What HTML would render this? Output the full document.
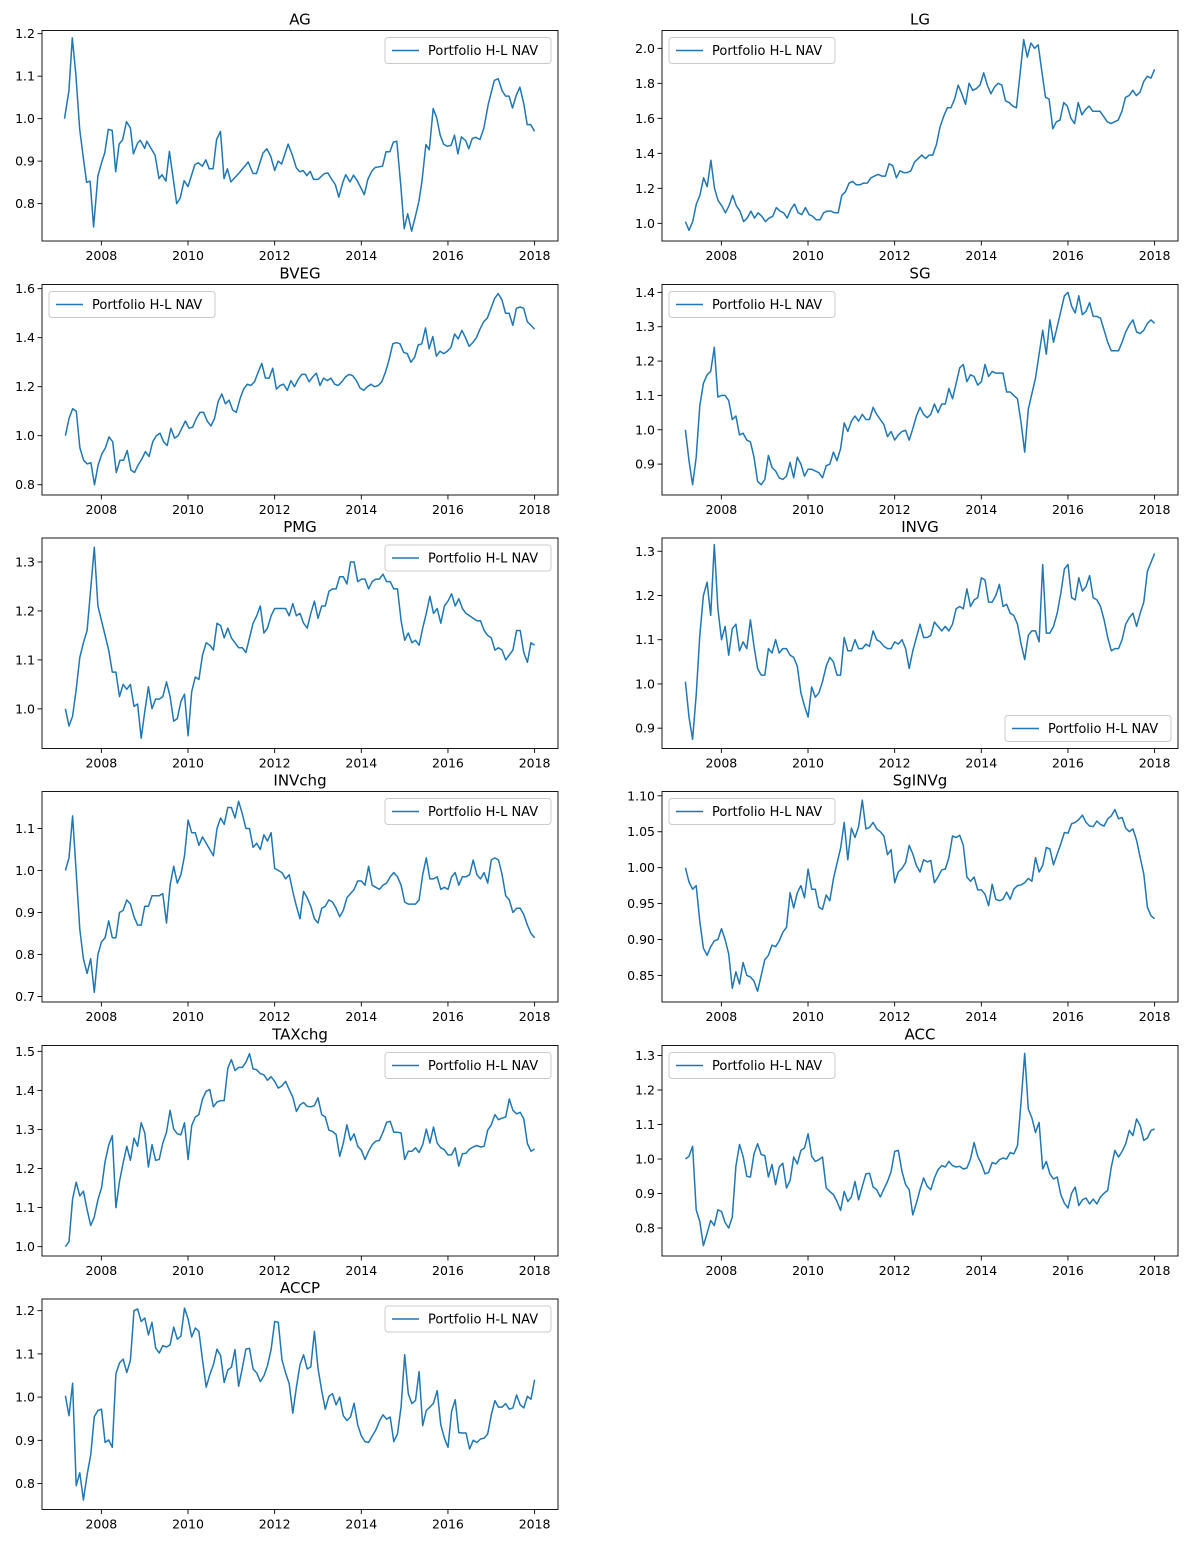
<!DOCTYPE html>
<html><head><meta charset="utf-8">
<style>
html,body{margin:0;padding:0;background:#fff;}
svg{display:block;font-family:"DejaVu Sans","Liberation Sans",sans-serif;}
</style></head>
<body>
<svg id="fig" width="1193" height="1543" viewBox="0 0 1193 1543" xmlns="http://www.w3.org/2000/svg"></svg>
<script>
// ---- data ----
const titles = ["AG","LG","BVEG","SG","PMG","INVG","INVchg","SgINVg","TAXchg","ACC","ACCP"];
const xTickYears = [2008,2010,2012,2014,2016,2018];
const agYears = [2007.15,2007.25,2007.33,2007.41,2007.5,2007.58,2007.66,2007.74,2007.82,2007.92,2008.0,2008.08,2008.16,2008.25,2008.33,2008.41,2008.49,2008.58,2008.67,2008.74,2008.84,2008.9,2009.0,2009.05,2009.24,2009.33,2009.4,2009.49,2009.57,2009.74,2009.82,2009.91,2010.0,2010.16,2010.24,2010.33,2010.41,2010.49,2010.58,2010.66,2010.75,2010.83,2010.91,2010.99,2011.18,2011.39,2011.5,2011.58,2011.73,2011.82,2011.91,2012.0,2012.08,2012.16,2012.31,2012.41,2012.5,2012.58,2012.66,2012.74,2012.82,2012.9,2013.0,2013.15,2013.23,2013.32,2013.4,2013.48,2013.57,2013.64,2013.74,2013.82,2013.91,2013.99,2014.07,2014.15,2014.24,2014.32,2014.49,2014.57,2014.66,2014.74,2014.82,2014.91,2014.99,2015.07,2015.16,2015.24,2015.33,2015.4,2015.49,2015.57,2015.66,2015.74,2015.82,2015.9,2015.98,2016.07,2016.15,2016.23,2016.31,2016.41,2016.48,2016.56,2016.64,2016.74,2016.83,2016.93,2017.07,2017.16,2017.25,2017.33,2017.41,2017.49,2017.58,2017.66,2017.75,2017.83,2017.91,2018.0];
const agVals = [1.00,1.065,1.19,1.105,0.975,0.91,0.85,0.853,0.745,0.865,0.895,0.92,0.975,0.972,0.875,0.94,0.95,0.993,0.978,0.917,0.943,0.949,0.93,0.947,0.914,0.859,0.868,0.853,0.923,0.80,0.813,0.854,0.84,0.892,0.896,0.888,0.903,0.882,0.882,0.951,0.97,0.859,0.882,0.851,0.872,0.898,0.871,0.871,0.919,0.929,0.911,0.878,0.9,0.893,0.94,0.914,0.884,0.875,0.878,0.866,0.876,0.857,0.857,0.871,0.872,0.857,0.845,0.815,0.849,0.868,0.851,0.867,0.853,0.837,0.821,0.857,0.876,0.885,0.888,0.922,0.922,0.945,0.947,0.845,0.741,0.776,0.735,0.766,0.805,0.853,0.939,0.927,1.024,1.002,0.961,0.94,0.935,0.937,0.961,0.917,0.957,0.948,0.929,0.953,0.956,0.951,0.978,1.033,1.09,1.094,1.066,1.053,1.053,1.025,1.056,1.074,1.035,0.986,0.986,0.97];
const lgVals = [1.01,0.96,1.01,1.11,1.16,1.26,1.21,1.36,1.20,1.13,1.10,1.06,1.10,1.16,1.10,1.07,1.01,1.03,1.07,1.03,1.06,1.04,1.01,1.03,1.04,1.09,1.07,1.06,1.03,1.08,1.11,1.06,1.05,1.09,1.05,1.04,1.02,1.02,1.06,1.07,1.07,1.06,1.06,1.16,1.18,1.23,1.24,1.22,1.22,1.23,1.23,1.26,1.27,1.28,1.27,1.27,1.34,1.33,1.26,1.30,1.29,1.29,1.30,1.35,1.37,1.39,1.37,1.39,1.39,1.45,1.55,1.61,1.66,1.66,1.71,1.79,1.74,1.68,1.80,1.76,1.77,1.79,1.86,1.79,1.74,1.78,1.80,1.79,1.70,1.69,1.67,1.66,1.85,2.05,1.95,2.03,2.00,2.02,1.87,1.72,1.71,1.54,1.58,1.59,1.69,1.67,1.60,1.57,1.69,1.62,1.65,1.67,1.64,1.64,1.64,1.61,1.58,1.57,1.58,1.59,1.64,1.72,1.73,1.76,1.73,1.75,1.81,1.84,1.83,1.88];
const bvegVals = [1.00,1.07,1.11,1.10,0.95,0.90,0.885,0.89,0.80,0.88,0.925,0.95,0.995,0.975,0.85,0.90,0.90,0.94,0.86,0.85,0.88,0.905,0.935,0.915,0.975,1.00,1.01,0.975,0.96,1.03,0.99,1.00,1.03,1.06,1.03,1.035,1.07,1.095,1.095,1.06,1.04,1.07,1.14,1.17,1.13,1.145,1.105,1.095,1.15,1.19,1.21,1.205,1.22,1.26,1.295,1.235,1.235,1.275,1.19,1.205,1.21,1.185,1.225,1.20,1.23,1.25,1.25,1.22,1.24,1.255,1.205,1.235,1.225,1.235,1.21,1.205,1.22,1.24,1.25,1.245,1.225,1.195,1.185,1.20,1.21,1.20,1.205,1.22,1.26,1.31,1.375,1.38,1.375,1.34,1.335,1.30,1.32,1.37,1.375,1.44,1.355,1.405,1.325,1.345,1.335,1.345,1.36,1.415,1.395,1.43,1.40,1.365,1.38,1.40,1.435,1.465,1.48,1.52,1.56,1.58,1.555,1.50,1.50,1.45,1.52,1.525,1.52,1.465,1.45,1.435];
const sgVals = [1.00,0.91,0.84,0.92,1.07,1.135,1.16,1.17,1.24,1.095,1.10,1.10,1.085,1.03,1.04,0.985,0.99,0.97,0.965,0.92,0.85,0.84,0.855,0.925,0.89,0.88,0.86,0.855,0.865,0.905,0.86,0.92,0.90,0.865,0.885,0.885,0.88,0.875,0.86,0.895,0.90,0.935,0.91,0.945,1.02,0.995,1.025,1.04,1.025,1.045,1.03,1.03,1.065,1.045,1.03,1.015,0.98,0.995,0.97,0.985,0.995,0.998,0.97,1.003,1.04,1.065,1.045,1.035,1.045,1.075,1.05,1.075,1.075,1.12,1.09,1.135,1.18,1.19,1.14,1.16,1.155,1.13,1.14,1.19,1.155,1.17,1.165,1.165,1.165,1.11,1.11,1.10,1.09,1.02,0.935,1.06,1.105,1.15,1.22,1.29,1.22,1.32,1.255,1.30,1.345,1.39,1.40,1.36,1.34,1.39,1.335,1.345,1.37,1.33,1.33,1.325,1.29,1.255,1.23,1.23,1.23,1.255,1.285,1.305,1.32,1.285,1.28,1.29,1.31,1.32,1.31];
const pmgVals = [1.00,0.965,0.985,1.04,1.105,1.135,1.16,1.245,1.33,1.21,1.18,1.15,1.12,1.075,1.075,1.025,1.05,1.04,1.05,1.005,1.01,0.94,0.995,1.045,1.00,1.02,1.02,1.025,1.055,1.025,0.975,0.98,1.015,1.03,0.945,1.035,1.065,1.06,1.11,1.135,1.13,1.12,1.175,1.17,1.145,1.165,1.145,1.135,1.125,1.125,1.115,1.145,1.175,1.19,1.21,1.155,1.165,1.19,1.205,1.205,1.205,1.205,1.19,1.215,1.19,1.195,1.175,1.165,1.195,1.22,1.185,1.21,1.21,1.24,1.245,1.245,1.27,1.27,1.255,1.30,1.30,1.26,1.265,1.265,1.245,1.26,1.265,1.265,1.275,1.26,1.26,1.245,1.245,1.18,1.14,1.155,1.135,1.14,1.13,1.165,1.195,1.23,1.195,1.205,1.175,1.21,1.22,1.235,1.21,1.225,1.205,1.195,1.19,1.185,1.18,1.18,1.16,1.15,1.145,1.12,1.125,1.12,1.10,1.11,1.12,1.16,1.16,1.115,1.095,1.135,1.13];
const invgVals = [1.005,0.925,0.875,0.975,1.11,1.20,1.23,1.155,1.315,1.17,1.10,1.13,1.065,1.125,1.135,1.075,1.095,1.08,1.145,1.085,1.035,1.02,1.02,1.08,1.07,1.10,1.07,1.08,1.08,1.065,1.06,1.04,0.98,0.95,0.925,0.993,0.97,0.98,1.005,1.04,1.06,1.05,1.02,1.02,1.105,1.075,1.075,1.10,1.08,1.08,1.09,1.085,1.12,1.10,1.095,1.085,1.08,1.08,1.095,1.09,1.10,1.08,1.035,1.075,1.105,1.135,1.105,1.105,1.11,1.14,1.13,1.12,1.13,1.12,1.135,1.17,1.175,1.17,1.215,1.175,1.19,1.195,1.24,1.235,1.185,1.185,1.20,1.225,1.175,1.18,1.16,1.155,1.135,1.09,1.055,1.11,1.12,1.12,1.095,1.27,1.115,1.115,1.13,1.16,1.205,1.26,1.27,1.195,1.19,1.24,1.21,1.22,1.245,1.195,1.19,1.175,1.145,1.105,1.075,1.08,1.08,1.10,1.135,1.15,1.16,1.13,1.16,1.185,1.255,1.275,1.295];
const invchgVals = [1.00,1.03,1.13,0.995,0.86,0.79,0.755,0.79,0.71,0.80,0.83,0.84,0.88,0.84,0.84,0.90,0.905,0.93,0.92,0.89,0.87,0.87,0.915,0.915,0.94,0.94,0.94,0.945,0.875,0.965,1.01,0.97,0.99,1.035,1.12,1.09,1.09,1.06,1.08,1.065,1.05,1.035,1.10,1.125,1.11,1.15,1.15,1.125,1.165,1.135,1.10,1.10,1.055,1.065,1.05,1.085,1.07,1.09,1.005,1.00,0.995,0.98,0.99,0.95,0.915,0.885,0.95,0.935,0.915,0.885,0.875,0.91,0.915,0.93,0.925,0.91,0.89,0.905,0.935,0.945,0.955,0.975,0.975,0.965,1.01,0.965,0.96,0.955,0.965,0.97,0.985,0.995,0.985,0.965,0.925,0.92,0.92,0.92,0.93,0.99,1.03,0.98,0.98,0.985,0.955,0.96,0.955,0.985,0.995,0.965,0.985,0.985,0.99,1.025,0.99,0.98,0.995,0.97,1.025,1.03,1.025,0.99,0.94,0.93,0.90,0.91,0.91,0.895,0.87,0.85,0.84];
const sginvgVals = [1.00,0.98,0.97,0.975,0.925,0.888,0.878,0.89,0.898,0.90,0.915,0.90,0.88,0.832,0.855,0.838,0.868,0.85,0.848,0.842,0.828,0.85,0.872,0.878,0.892,0.89,0.898,0.91,0.917,0.965,0.944,0.965,0.975,0.958,0.998,0.97,0.97,0.945,0.942,0.962,0.954,0.984,1.006,1.027,1.063,1.011,1.055,1.042,1.057,1.094,1.054,1.056,1.063,1.054,1.05,1.044,1.018,1.025,0.979,0.994,0.999,1.007,1.031,1.019,1.003,0.994,1.011,1.008,1.01,0.979,0.987,0.997,0.998,1.014,1.044,1.042,1.045,1.031,0.987,0.981,0.987,0.969,0.969,0.963,0.947,0.977,0.956,0.954,0.956,0.966,0.956,0.97,0.975,0.976,0.979,0.985,0.981,1.014,0.994,1.003,1.028,1.026,1.004,1.019,1.033,1.049,1.048,1.061,1.063,1.067,1.073,1.063,1.058,1.057,1.065,1.06,1.058,1.068,1.072,1.081,1.068,1.07,1.055,1.05,1.054,1.038,1.014,0.991,0.945,0.933,0.929];
const taxchgVals = [1.00,1.013,1.122,1.165,1.13,1.142,1.095,1.054,1.076,1.12,1.15,1.218,1.26,1.284,1.10,1.167,1.214,1.257,1.221,1.278,1.257,1.317,1.291,1.204,1.261,1.221,1.223,1.265,1.293,1.349,1.301,1.289,1.286,1.317,1.223,1.31,1.332,1.338,1.378,1.398,1.402,1.358,1.37,1.374,1.374,1.457,1.479,1.451,1.459,1.459,1.472,1.494,1.455,1.453,1.443,1.44,1.426,1.435,1.423,1.406,1.412,1.423,1.402,1.383,1.346,1.363,1.369,1.359,1.358,1.361,1.381,1.338,1.332,1.298,1.295,1.287,1.231,1.265,1.312,1.272,1.289,1.257,1.247,1.223,1.244,1.261,1.27,1.272,1.293,1.318,1.321,1.293,1.293,1.291,1.223,1.244,1.244,1.253,1.241,1.261,1.301,1.265,1.306,1.265,1.253,1.248,1.235,1.235,1.253,1.206,1.238,1.239,1.25,1.255,1.259,1.255,1.257,1.298,1.312,1.338,1.325,1.329,1.332,1.378,1.349,1.34,1.344,1.327,1.264,1.244,1.25];
const accVals = [1.00,1.008,1.037,0.853,0.819,0.749,0.785,0.822,0.807,0.853,0.848,0.816,0.80,0.832,0.979,1.042,1.008,0.95,0.948,1.015,1.044,1.013,1.01,0.948,0.984,0.926,0.977,0.988,0.916,0.938,1.006,0.986,1.025,1.032,1.073,1.008,0.993,0.998,1.006,0.916,0.906,0.897,0.877,0.851,0.906,0.877,0.89,0.935,0.882,0.921,0.957,0.959,0.919,0.911,0.89,0.913,0.935,0.964,1.022,1.025,0.964,0.926,0.911,0.838,0.872,0.911,0.945,0.921,0.911,0.945,0.969,0.981,0.977,0.993,0.981,0.977,0.979,0.971,0.974,1.00,1.048,1.008,0.986,0.957,0.961,0.99,0.986,0.998,1.003,1.00,1.019,1.015,1.039,1.167,1.306,1.145,1.119,1.077,1.106,0.971,0.993,0.957,0.942,0.948,0.897,0.872,0.858,0.901,0.919,0.865,0.882,0.887,0.87,0.884,0.87,0.89,0.901,0.909,0.977,1.025,1.006,1.022,1.044,1.083,1.068,1.116,1.097,1.054,1.061,1.083,1.087];
const accpVals = [1.003,0.957,1.032,0.795,0.825,0.762,0.82,0.866,0.955,0.969,0.972,0.895,0.901,0.884,1.054,1.079,1.088,1.057,1.085,1.20,1.204,1.175,1.183,1.144,1.173,1.114,1.102,1.119,1.116,1.121,1.162,1.134,1.141,1.206,1.181,1.139,1.16,1.152,1.086,1.023,1.052,1.075,1.111,1.096,1.034,1.063,1.069,1.11,1.025,1.067,1.111,1.113,1.065,1.056,1.036,1.049,1.073,1.11,1.175,1.173,1.086,1.056,1.031,0.963,1.023,1.075,1.098,1.065,1.07,1.152,1.067,1.015,0.972,1.002,1.008,0.982,1.00,0.957,0.946,0.954,0.986,0.936,0.91,0.897,0.895,0.91,0.924,0.944,0.959,0.949,0.954,0.897,0.915,0.978,1.098,1.008,0.985,0.992,1.059,0.934,0.969,0.977,0.986,1.015,0.936,0.905,0.884,0.967,0.994,0.918,0.917,0.917,0.88,0.90,0.895,0.903,0.905,0.915,0.959,0.992,0.977,0.977,0.985,0.972,0.975,1.005,0.982,0.975,1.002,0.995,1.04];
const seriesVals = [agVals,lgVals,bvegVals,sgVals,pmgVals,invgVals,invchgVals,sginvgVals,taxchgVals,accVals,accpVals];
const yDomains = [[0.712,1.2075],[0.899,2.102],[0.758,1.617],[0.810,1.423],[0.919,1.349],[0.854,1.330],[0.687,1.188],[0.813,1.106],[0.976,1.515],[0.719,1.329],[0.740,1.227]];
const yTicks = [[0.8,0.9,1.0,1.1,1.2],[1.0,1.2,1.4,1.6,1.8,2.0],[0.8,1.0,1.2,1.4,1.6],[0.9,1.0,1.1,1.2,1.3,1.4],[1.0,1.1,1.2,1.3],[0.9,1.0,1.1,1.2,1.3],[0.7,0.8,0.9,1.0,1.1],[0.85,0.90,0.95,1.00,1.05,1.10],[1.0,1.1,1.2,1.3,1.4,1.5],[0.8,0.9,1.0,1.1,1.2,1.3],[0.8,0.9,1.0,1.1,1.2]];
const yDecimals = [1,1,1,1,1,1,1,2,1,1,1];
const legendPos = ["ur","ul","ul","ul","ur","lr","ur","ul","ur","ul","ur"];
const startYear = 2007.17, endYear = 2018.0;

// ---- layout ----
const NS = "http://www.w3.org/2000/svg";
const svg = document.getElementById('fig');
const colX = [42,662], axW = 516;
const rowY = [30.5,284.5,538,791.5,1045.5,1299], axH = 210.5;
const xMin = 2006.63, xMax = 2018.54; // x-limits of each axes
function mk(tag, attrs, parent){const e=document.createElementNS(NS,tag);for(const k in attrs)e.setAttribute(k,attrs[k]);(parent||svg).appendChild(e);return e;}

titles.forEach((t, i) => {
  const col = i % 2, row = Math.floor(i / 2);
  const x0 = colX[col], y0 = rowY[row];
  const [lo, hi] = yDomains[i];
  const sx = v => x0 + (v - xMin) / (xMax - xMin) * axW;
  const sy = v => y0 + axH - (v - lo) / (hi - lo) * axH;
  const g = mk('g', {});
  
  

  const tt = mk('text', {x: x0 + axW/2, y: y0 - 6, 'text-anchor':'middle', 'font-size':'15', fill:'#000'}, g);
  tt.textContent = t;
  
  

  // series
  const vals = seriesVals[i];
  const yrs = (i === 0) ? agYears : vals.map((_, k) => startYear + k * (endYear - startYear) / (vals.length - 1));
  const d = vals.map((v, k) => (k ? 'L' : 'M') + sx(yrs[k]).toFixed(1) + ',' + sy(v).toFixed(1)).join('');
  const line = mk('path', {d: d, fill:'none', stroke:'#1f77b4', 'stroke-width':'1.5', 'stroke-linejoin':'round'}, g);
  
  

  // frame
  const fr = mk('rect', {x:x0, y:y0, width:axW, height:axH, fill:'none', stroke:'#000', 'stroke-width':'0.9'}, g);
  
  

  // x ticks
  xTickYears.forEach(yr => {
    const x = sx(yr);
    mk('line', {x1:x, y1:y0+axH, x2:x, y2:y0+axH+4.5, stroke:'#000', 'stroke-width':'0.9'}, g);
    const lb = mk('text', {x:x, y:y0+axH+19, 'text-anchor':'middle', 'font-size':'12.5', fill:'#000'}, g);
    lb.textContent = yr;
    
    
  });
  // y ticks
  yTicks[i].forEach(v => {
    const y = sy(v);
    mk('line', {x1:x0-4.5, y1:y, x2:x0, y2:y, stroke:'#000', 'stroke-width':'0.9'}, g);
    const lb = mk('text', {x:x0-7, y:y+4.5, 'text-anchor':'end', 'font-size':'12.5', fill:'#000'}, g);
    lb.textContent = v.toFixed(yDecimals[i]);
    
    
  });

  // legend
  const lw = 166, lh = 26;
  const p = legendPos[i];
  const lx = p === 'ul' ? x0 + 7 : x0 + axW - lw - 7;
  const ly = p === 'lr' ? y0 + axH - lh - 7 : y0 + 7;
  const lg = mk('g', {}, g);
  
  
  mk('rect', {x:lx, y:ly, width:lw, height:lh, rx:3, fill:'#fff', 'fill-opacity':'0.8', stroke:'#ccc', 'stroke-width':'1'}, lg);
  mk('line', {x1:lx+7, y1:ly+lh/2, x2:lx+34, y2:ly+lh/2, stroke:'#1f77b4', 'stroke-width':'1.5'}, lg);
  const lt = mk('text', {x:lx+43, y:ly+lh/2+4.5, 'font-size':'13', fill:'#000'}, lg);
  lt.textContent = 'Portfolio H-L NAV';
  
  
});
</script>
</body></html>
